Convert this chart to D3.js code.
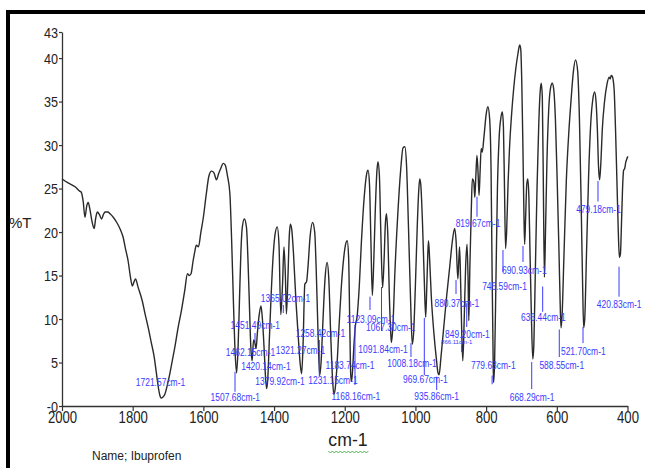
<!DOCTYPE html>
<html><head><meta charset="utf-8">
<script src="https://cdn.jsdelivr.net/npm/d3@7"></script>
<style>
html,body{margin:0;padding:0;background:#fff;}
svg{display:block;}
text{font-family:"Liberation Sans",Arial,sans-serif;}
</style></head>
<body>
<svg id="chart" width="645" height="468"></svg>
<script>
// ---- data ----
const wavenumbers = [2000,1985,1963,1950,1946,1940,1935,1930,1926,1921,1915,1909,1905,1900,1894,1888,1883,1878,1870,1864,1855,1845,1835,1827,1820,1813,1807,1801,1796,1792,1785,1773,1765,1756,1748,1739,1733,1728,1723,1720,1715,1709,1702,1695,1688,1681,1672,1662,1653,1645,1640,1635,1629,1624,1620,1614,1607,1600,1592,1584,1577,1570,1563,1557,1550,1544,1538,1532,1525,1520,1515,1510,1506,1502,1498,1494,1490,1484,1478,1474,1470,1466,1462,1458,1455,1451,1447,1442,1437,1433,1428,1424,1421,1418,1413,1408,1403,1397,1391,1386,1381,1376,1372,1368,1365,1361,1357,1354,1350,1345,1338,1330,1326,1322,1318,1313,1308,1304,1298,1291,1285,1281,1276,1271,1267,1262,1256,1250,1245,1240,1235,1231,1227,1223,1217,1210,1203,1197,1193,1189,1186,1183,1181,1178,1174,1170,1165,1160,1152,1145,1138,1134,1130,1126,1122,1118,1114,1109,1106,1102,1098,1093,1089,1085,1082,1078,1074,1070,1068,1064,1058,1050,1042,1035,1030,1025,1020,1014,1009,1005,1000,995,991,988,985,980,975,971,968,965,963,960,955,948,941,936,933,928,920,912,903,896,889,885,880,877,875,872,869,866,862,858,854,851,849,846,842,839,835,832,829,826,823,820,817,814,811,806,800,795,790,786,783,780,779,776,772,768,763,758,754,751,748,745,742,738,734,728,722,716,710,705,702,699,696,693,691,688,685,682,679,676,672,668,665,661,656,651,647,644,641,638,635,632,628,623,618,613,609,604,599,594,590,588,585,580,573,566,560,553,547,541,536,531,527,524,521,516,510,504,498,493,489,485,482,479,476,471,465,458,452,449,446,443,438,434,430,426,423,420,417,414,411,408,405,402,399];
const transmittance = [26.1,25.7,25.2,24.7,24.6,23.5,21.7,23.0,23.4,22.6,21.2,20.4,21.5,22.3,22.0,21.5,22.0,22.3,22.3,22.1,21.7,21.1,20.3,19.4,18.0,16.7,15.0,13.8,14.3,14.6,13.7,12.1,10.6,9.0,7.4,5.6,3.8,2.3,1.2,0.9,1.0,1.35,2.4,3.7,5.2,6.7,8.9,11.0,13.2,15.2,15.0,15.2,16.7,17.8,18.5,18.3,20.0,21.7,24.3,26.5,27.0,26.8,26.0,26.7,27.4,27.9,27.7,26.5,24.4,19.0,12.0,6.0,3.8,6.5,12.0,17.5,20.5,21.5,20.5,17.0,12.0,7.0,5.2,7.6,7.4,6.6,8.5,10.5,11.5,10.0,6.5,3.2,2.0,3.0,8.0,13.0,17.0,19.8,20.6,18.5,10.5,14.0,18.3,15.0,10.6,14.5,19.5,20.9,20.3,17.5,12.0,7.0,4.8,3.7,7.0,14.0,14.3,16.0,19.5,21.1,20.0,16.0,9.0,3.5,5.0,9.5,14.5,16.5,14.5,8.5,3.5,1.35,2.0,4.0,8.5,13.5,17.0,18.7,19.0,17.0,10.0,3.5,2.8,4.0,7.0,9.2,10.3,13.0,19.5,24.0,26.7,27.1,25.5,19.0,12.7,16.5,22.0,27.0,28.1,26.5,20.0,13.6,16.5,21.0,22.1,19.5,13.0,8.5,7.3,9.0,15.5,22.0,27.0,29.7,29.8,27.5,21.0,12.5,7.1,8.5,14.0,20.5,24.5,26.1,25.5,21.0,14.5,10.2,13.5,17.5,19.0,17.0,12.5,8.5,5.5,3.8,3.6,5.5,9.0,12.5,16.0,18.8,20.4,19.0,14.6,17.0,18.3,14.0,8.5,5.2,10.0,16.0,18.6,14.5,9.8,16.0,22.5,26.1,25.8,24.0,26.5,28.8,27.0,24.2,27.0,29.6,29.2,31.0,33.5,34.4,33.0,27.0,15.0,5.0,2.7,5.0,15.0,25.0,31.0,33.2,33.8,32.0,25.0,18.1,20.0,25.5,29.5,33.5,36.5,38.8,40.5,41.5,41.0,37.0,30.0,22.0,18.6,22.0,25.5,26.1,24.0,18.0,10.5,5.4,7.0,15.0,25.0,32.5,36.2,37.1,35.5,25.0,14.8,20.0,28.0,34.0,36.5,37.1,36.5,33.0,26.0,18.0,11.0,9.0,10.5,17.0,26.0,31.5,35.0,38.5,39.8,38.5,33.0,23.0,14.0,9.0,10.0,17.5,26.5,32.5,35.3,36.1,35.0,31.5,27.5,26.0,27.5,32.0,35.0,37.0,37.8,37.6,38.0,37.9,36.5,32.0,26.0,20.0,17.1,17.5,21.0,25.0,27.1,27.3,28.0,28.4,28.7];

const xTicks = [2000,1800,1600,1400,1200,1000,800,600,400];
const yTicks = [0,5,10,15,20,25,30,35,40,43];

// peak labels: text, centre (cm-1), baseline (%T)
const peakTexts = ["1721.57cm-1","1507.68cm-1","1462.15cm-1","1451.49cm-1","1420.14cm-1","1379.92cm-1","1365.02cm-1","1321.27cm-1","1258.42cm-1","1231.15cm-1","1183.74cm-1","1168.16cm-1","1123.09cm-1","1067.30cm-1","1091.84cm-1","1008.18cm-1","969.67cm-1","935.86cm-1","880.37cm-1","849.20cm-1","819.67cm-1","779.63cm-1","746.59cm-1","690.93cm-1","668.29cm-1","636.44cm-1","588.55cm-1","521.70cm-1","479.18cm-1","420.83cm-1"];
const peakTextX = [1721.3,1509.7,1466.7,1453.0,1423.1,1383.2,1367.6,1325.2,1268.9,1233.3,1185.1,1168.7,1125.7,1069.7,1091.8,1009.7,972.0,940.0,883.0,853.0,823.0,779.7,748.0,692.0,670.0,638.0,586.0,525.0,482.0,423.5];
const peakTextT = [2.30,0.61,5.78,8.85,4.14,2.47,11.92,5.98,7.93,2.53,4.25,0.66,9.54,8.66,6.09,4.45,2.61,0.69,11.38,7.82,20.55,4.25,13.34,15.12,0.61,9.81,4.25,5.90,22.17,11.32];
// small marker lines: position (cm-1), top and bottom (%T)
const markX = [1510.5,1453.9,1373.9,1272.0,1171.0,1128.6,1096.0,1012.6,974.9,939.8,885.2,854.9,869.1,825.8,783.0,752.3,695.7,671.0,640.0,593.0,525.9,483.5,424.0];
const markTop = [3.94,8.39,11.61,7.59,9.31,12.57,13.68,7.24,10.12,3.37,14.49,11.81,7.0,24.06,3.5,17.94,18.4,5.06,13.74,8.8,9.08,25.87,16.02];
const markBottom = [1.64,7.36,10.69,3.45,2.41,11.04,8.62,5.63,3.56,1.84,12.88,9.08,6.2,21.76,2.5,15.4,16.56,1.95,10.84,5.63,7.24,23.51,12.57];
const tinyText = "866.11cm-1";
const tinyTextX = 883.3, tinyTextT = 7.1;

// ---- drawing ----
const svg = d3.select("#chart");
const x = d3.scaleLinear().domain([2000,400]).range([62,627.5]);
const y = d3.scaleLinear().domain([0,43]).range([406,32]);

function squeeze(sel, f){
  sel.each(function(){
    const n = this.getComputedTextLength();
    d3.select(this).attr("textLength", n*f).attr("lengthAdjust","spacingAndGlyphs");
  });
}

// frame
svg.append("rect").attr("x",6).attr("y",10).attr("width",639).attr("height",4).attr("fill","#000");
svg.append("rect").attr("x",6).attr("y",10).attr("width",4).attr("height",458).attr("fill","#000");

// axes
const gx = svg.append("g").attr("transform","translate(0,406)")
  .call(d3.axisBottom(x).tickValues(xTicks).tickSize(5).tickSizeOuter(0).tickPadding(3).tickFormat(d=>d));
gx.select(".domain").attr("stroke","#333").attr("stroke-width",1.3);
gx.selectAll(".tick line").attr("stroke","#333").attr("stroke-width",1.2);
gx.selectAll(".tick text").attr("font-size",16).attr("fill","#222").attr("y",17).attr("dy",0)
  .call(squeeze,0.82);

const gy = svg.append("g").attr("transform","translate(62,0)")
  .call(d3.axisLeft(y).tickValues(yTicks).tickSize(3).tickSizeOuter(0).tickPadding(1).tickFormat(d=>d===0?"-0":d));
gy.select(".domain").attr("stroke","#333").attr("stroke-width",1.3);
gy.selectAll(".tick line").attr("stroke","#333").attr("stroke-width",1.2);
gy.selectAll(".tick text").attr("font-size",14).attr("fill","#222").attr("dy","0.36em")
  .call(squeeze,0.9);

// titles
svg.append("text").attr("x",9).attr("y",228).attr("font-size",15).attr("fill","#222").text("%T");
const xt = svg.append("text").attr("x",348).attr("y",446).attr("text-anchor","middle")
  .attr("font-size",19).attr("fill","#222").text("cm-1").call(squeeze,0.93);
svg.append("text").attr("x",92).attr("y",460).attr("font-size",12).attr("fill","#222").text("Name; Ibuprofen");
// green wavy underline under the axis title
{
  const bb = xt.node().getBBox();
  let p = "M" + (bb.x) + ",451";
  for (let i = 0, xx = bb.x; xx < bb.x + bb.width; i++) { xx += 2; p += "L" + xx + "," + (i % 2 ? 451 : 453); }
  svg.append("path").attr("d",p).attr("fill","none").attr("stroke","#3aa83a").attr("stroke-width",0.9);
}

// spectrum
const pts = wavenumbers.map((w,i)=>[w,transmittance[i]]);
svg.append("path").datum(pts)
  .attr("d", d3.line().x(d=>x(d[0])).y(d=>y(d[1])).curve(d3.curveMonotoneX))
  .attr("fill","none").attr("stroke","#2a2a2a").attr("stroke-width",1.4).attr("stroke-linejoin","round");

// marker lines
const blue = "#3a3aff";
svg.append("g").selectAll("line").data(markX).join("line")
  .attr("x1",d=>x(d)).attr("x2",d=>x(d))
  .attr("y1",(d,i)=>y(markTop[i])).attr("y2",(d,i)=>y(markBottom[i]))
  .attr("stroke",blue).attr("stroke-width",1);

// peak labels
svg.append("g").selectAll("text").data(peakTexts).join("text")
  .attr("x",(d,i)=>x(peakTextX[i])).attr("y",(d,i)=>y(peakTextT[i]))
  .attr("text-anchor","middle").attr("font-size",11).attr("fill",blue).text(d=>d)
  .call(squeeze,0.77);
svg.append("text").attr("x",x(tinyTextX)).attr("y",y(tinyTextT)).attr("text-anchor","middle")
  .attr("font-size",6).attr("fill",blue).text(tinyText);
</script>
</body></html>
